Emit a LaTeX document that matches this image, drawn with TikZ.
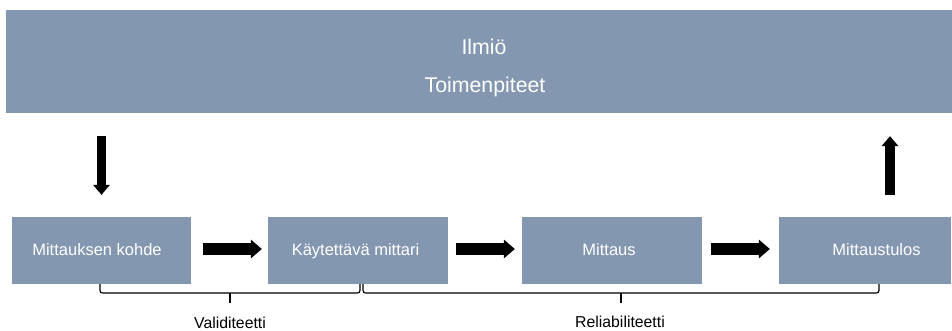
\documentclass[tikz,border=0pt]{standalone}
\usepackage{fontspec}
\setmainfont{Liberation Sans}
\usetikzlibrary{arrows.meta,calc}
\definecolor{boxblue}{RGB}{132,151,176}
\begin{document}
\begin{tikzpicture}[x=1pt,y=-1pt,
  box/.style={draw=none,fill=boxblue,minimum height=67pt,inner sep=0pt,
    text height=12pt,text depth=3pt,
    text=white,font=\fontsize{16.5}{19}\selectfont},
  toptext/.style={anchor=base,text=white,font=\fontsize{21.3}{24}\selectfont,inner sep=0pt},
  lbl/.style={anchor=base,font=\fontsize{15.8}{18}\selectfont,inner sep=0pt},
  blk/.style={line width=12pt,-{Triangle[width=19pt,length=11pt,line width=0pt]}},
  blkv/.style={line width=9.5pt,-{Triangle[width=17pt,length=10pt,line width=0pt]}},
  brace/.style={line width=1.1pt,rounded corners=2.5pt}]
\useasboundingbox (0,0) rectangle (952,331);
\node[fill=boxblue,minimum width=946pt,minimum height=103pt,inner sep=0pt] (top) at (479,61.5) {};
\node[toptext] (ilmio) at (484,55) {Ilmiö};
\node[toptext] (toim) at (485,93) {Toimenpiteet};
\node[box,minimum width=179pt] (b1) at (101.5,250.5) {Mittauksen kohde\hspace*{9pt}};
\node[box,minimum width=180pt] (b2) at (358,250.5) {Käytettävä mittari\hspace*{5pt}};
\node[box,minimum width=180pt] (b3) at (612,250.5) {Mittaus\hspace*{6pt}};
\node[box,minimum width=172pt] (b4) at (865,250.5) {\hspace*{23pt}Mittaustulos};
\draw[blk] ($(b1.east)+(12,-1.5)$) -- ($(b2.west)+(-6,-1.5)$);
\draw[blk] ($(b2.east)+(8,-1.5)$) -- ($(b3.west)+(-7,-1.5)$);
\draw[blk] ($(b3.east)+(9,-1.5)$) -- ($(b4.west)+(-9,-1.5)$);
\draw[blkv] ($(top.south -| b1.north)+(0,23)$) -- ($(b1.north)+(0,-22)$);
\coordinate (upbase) at ($(b4.north)+(25,-22)$);
\draw[blkv] (upbase) -- ($(top.south -| upbase)+(0,23)$);
% braces
\draw[brace] (100,284) -- (100,293) -- (360,293) -- (360,284);
\draw[line width=1.1pt] (230,293) -- (230,303);
\draw[brace] (363,284) -- (363,293) -- (879,293) -- (879,284);
\draw[line width=1.1pt] (621,293) -- (621,303);
\node[lbl] (val) at (230,328) {Validiteetti};
\node[lbl] (rel) at (620,327) {Reliabiliteetti};
\end{tikzpicture}
\end{document}
